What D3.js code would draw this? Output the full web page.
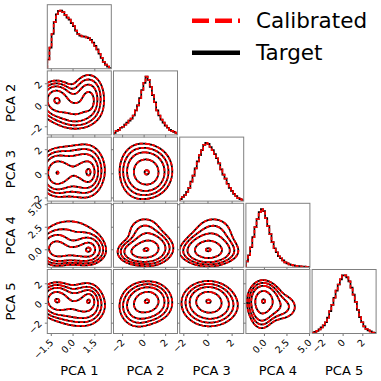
<!DOCTYPE html>
<html>
<head>
<meta charset="utf-8">
<script src="https://cdn.jsdelivr.net/npm/d3@7"></script>
<style>
  body { margin: 0; background: #fff; }
  text { font-family: "DejaVu Sans", sans-serif; }
</style>
</head>
<body>
<svg id="chart" width="381" height="381"></svg>
<script>
// axis names and limits of each principal component
const labels = ["PCA 1", "PCA 2", "PCA 3", "PCA 4", "PCA 5"];
const axisMin = [-1.74, -2.8, -2.3, -2.0, -3.1];
const axisMax = [2.67, 3.15, 3.0, 5.1, 3.4];
const tickValues = [[-1.5, 0, 1.5], [-2, 0, 2], [-2, 0, 2], [0, 2.5, 5], [-2, 0, 2]];
const tickLabels = [["−1.5", "0.0", "1.5"], ["−2", "0", "2"], ["−2", "0", "2"], ["0.0", "2.5", "5.0"], ["−2", "0", "2"]];

// diagonal histograms, 30 bins over each axis range
const histPCA1 = [27, 62, 102, 137, 160, 170, 171, 166, 158, 150, 144, 134, 125, 112, 102, 97, 95, 94, 92, 90, 85, 77, 67, 57, 44, 32, 20, 12, 6, 2];
const histPCA2 = [2, 4, 5, 7, 8, 10, 12, 14, 16, 19, 24, 29, 36, 44, 51, 57, 54, 47, 39, 32, 24, 19, 15, 12, 9, 7, 5, 4, 3, 2];
const histPCA3 = [2, 4, 6, 9, 13, 19, 25, 32, 39, 45, 50, 55, 57, 56, 53, 50, 46, 42, 37, 31, 26, 22, 17, 13, 10, 7, 5, 3, 2, 1];
const histPCA4 = [6, 12, 20, 30, 40, 48, 55, 58, 56, 49, 41, 33, 25, 19, 15, 11, 9, 7, 5, 4, 3, 2.5, 2, 1.5, 1.2, 1, 0.8, 0.6, 0.5, 0.4];
const histPCA5 = [1, 1.5, 2.5, 4, 6, 8, 11, 15.5, 22, 28, 35, 42, 48, 53, 57, 57, 55, 51, 45, 38, 31, 23, 16, 11, 7, 4.5, 3, 2, 1, 0.6];
const hists = [histPCA1, histPCA2, histPCA3, histPCA4, histPCA5];

// joint density behind the contour panels: gaussian blobs (weight, then mean / sd per PCA)
const blobWeights = [0.32, 0.045, 0.19, 0.30, 0.145];
const meanA = [-1.15, 0.5, 0.0, 0.1, 0.35];
const sdA = [0.55, 0.8, 0.85, 0.85, 0.8];
const meanP = [1.15, 0.3, 0.05, 0.0, 0.3];
const sdP = [0.25, 0.55, 0.5, 0.45, 0.5];
const meanB = [1.1, 1.0, 0.2, 0.1, 0.0];
const sdB = [0.55, 1.0, 1.05, 0.85, 1.05];
const meanM = [0.2, -0.6, 0.1, -0.3, -0.3];
const sdM = [0.85, 0.85, 1.1, 0.65, 1.1];
const meanT = [-0.2, 0.1, 0.5, 1.9, -0.4];
const sdT = [1.2, 1.0, 1.0, 1.1, 0.8];
// probability mass enclosed by each contour
const levels = [0.02, 0.45, 0.74, 0.86, 0.93];

const svg = d3.select("#chart");
const cell = 64, step = 66.2, gridLeft = 47.3, gridTop = 4.7;
const nDim = labels.length;
const blobMeans = [meanA, meanP, meanB, meanM, meanT];
const blobSds = [sdA, sdP, sdB, sdM, sdT];
const blobs = blobWeights.map((w, k) => ({ w, mu: blobMeans[k], sd: blobSds[k] }));

const xScale = i => d3.scaleLinear().domain([axisMin[i], axisMax[i]]).range([0, cell]);
const yScale = i => d3.scaleLinear().domain([axisMin[i], axisMax[i]]).range([cell, 0]);

function gauss(x, m, s) {
    const z = (x - m) / s;
    return Math.exp(-0.5 * z * z) / (s * Math.sqrt(2 * Math.PI));
}
function density(i, j, x, y) {
    return d3.sum(blobs, b => b.w * gauss(x, b.mu[i], b.sd[i]) * gauss(y, b.mu[j], b.sd[j]));
}

function contourPanel(g, cx, cy) {
    const N = 140, pad = 0.35;
    const xr = axisMax[cx] - axisMin[cx], yr = axisMax[cy] - axisMin[cy];
    const xlo = axisMin[cx] - pad * xr, xhi = axisMax[cx] + pad * xr;
    const ylo = axisMin[cy] - pad * yr, yhi = axisMax[cy] + pad * yr;
    const dx = (xhi - xlo) / N, dy = (yhi - ylo) / N;
    const values = new Float64Array(N * N);
    for (let r = 0; r < N; r++)
        for (let c = 0; c < N; c++)
            values[r * N + c] = density(cx, cy, xlo + (c + 0.5) * dx, ylo + (r + 0.5) * dy);

    const sorted = Array.from(values).sort((a, b) => b - a);
    const total = d3.sum(sorted);
    const thresholds = levels.map(p => {
        let acc = 0;
        for (const v of sorted) { acc += v; if (acc >= p * total) return v; }
        return 0;
    });
    const contours = d3.contours().size([N, N]).thresholds(thresholds)(values);

    const xs = xScale(cx), ys = yScale(cy);
    const path = d3.geoPath(d3.geoTransform({
        point(x, y) { this.stream.point(xs(xlo + x * dx), ys(ylo + y * dy)); }
    }));

    g.append("g").selectAll("path").data(contours).join("path")
        .attr("d", path).attr("fill", "none")
        .attr("stroke", "#000").attr("stroke-width", 1.8);
    g.append("g").selectAll("path").data(contours).join("path")
        .attr("d", path).attr("fill", "none")
        .attr("stroke", "#ff0000").attr("stroke-width", 1.8)
        .attr("stroke-dasharray", "3.5,1.8");
}

function histPanel(g, i) {
    const counts = hists[i];
    const xs = xScale(i);
    const ys = d3.scaleLinear().domain([0, d3.max(counts) * 1.1]).range([cell, 0]);
    const w = (axisMax[i] - axisMin[i]) / counts.length;
    const pts = [[axisMin[i], 0]];
    counts.forEach((c, k) => pts.push([axisMin[i] + k * w, c]));
    pts.push([axisMax[i], counts[counts.length - 1]]);
    pts.push([axisMax[i], 0]);
    const line = d3.line().x(d => xs(d[0])).y(d => ys(d[1])).curve(d3.curveStepAfter);
    g.append("path").attr("d", line(pts)).attr("fill", "none")
        .attr("stroke", "#000").attr("stroke-width", 1.7);
    g.append("path").attr("d", line(pts)).attr("fill", "none")
        .attr("stroke", "#ff0000").attr("stroke-width", 1.7)
        .attr("stroke-dasharray", "3.5,1.8");
}

const defs = svg.append("defs");
defs.append("clipPath").attr("id", "cellClip")
    .append("rect").attr("width", cell).attr("height", cell);

for (let r = 0; r < nDim; r++) {
    for (let c = 0; c <= r; c++) {
        const g = svg.append("g")
            .attr("transform", `translate(${gridLeft + c * step},${gridTop + r * step})`);
        const plot = g.append("g").attr("clip-path", "url(#cellClip)");
        if (r === c) histPanel(plot, c);
        else contourPanel(plot, c, r);

        // bottom ticks
        const bx = g.append("g").attr("transform", `translate(0,${cell})`)
            .call(d3.axisBottom(xScale(c)).tickValues(tickValues[c]).tickSize(2.5)
                .tickFormat((d, k) => r === nDim - 1 ? tickLabels[c][k] : ""));
        bx.select(".domain").remove();
        bx.selectAll("line").attr("stroke", "#777");
        bx.selectAll("text")
            .attr("x", null).attr("y", null).attr("dy", "0.71em")
            .attr("transform", "translate(-2,5) rotate(-45)")
            .style("text-anchor", "end").attr("fill", "#000")
            .attr("font-size", 9.5).attr("font-family", "DejaVu Sans, sans-serif");

        // left ticks (off-diagonal only)
        if (c < r) {
            const ly = g.append("g")
                .call(d3.axisLeft(yScale(r)).tickValues(tickValues[r]).tickSize(2.5)
                    .tickFormat((d, k) => c === 0 ? tickLabels[r][k] : ""));
            ly.select(".domain").remove();
            ly.selectAll("line").attr("stroke", "#777");
            ly.selectAll("text")
                .attr("x", null).attr("y", null).attr("dy", "0.35em")
                .attr("transform", "translate(-7,-1) rotate(-45)")
                .style("text-anchor", "end").attr("fill", "#000")
                .attr("font-size", 9.5).attr("font-family", "DejaVu Sans, sans-serif");
        }

        g.append("rect").attr("width", cell).attr("height", cell)
            .attr("fill", "none").attr("stroke", "#808080").attr("stroke-width", 1);
    }
}

// axis titles
labels.forEach((lab, i) => {
    svg.append("text")
        .attr("x", gridLeft + i * step + cell / 2).attr("y", 375)
        .attr("text-anchor", "middle").attr("font-size", 13).text(lab);
    if (i > 0) {
        svg.append("text")
            .attr("transform", `translate(14.5,${gridTop + i * step + cell / 2}) rotate(-90)`)
            .attr("text-anchor", "middle").attr("font-size", 13).text(lab);
    }
});

// legend
const legendNames = ["Calibrated", "Target"];
const legend = svg.append("g");
legendNames.forEach((name, k) => {
    const y = 20.7 + k * 32;
    const ln = legend.append("line").attr("x1", 192).attr("x2", 240)
        .attr("y1", y).attr("y2", y).attr("stroke-width", 4.5);
    if (k === 0) ln.attr("stroke", "#ff0000").attr("stroke-dasharray", "17,6");
    else ln.attr("stroke", "#000");
    legend.append("text").attr("x", 256).attr("y", y + 7.5)
        .attr("font-size", 21.5).text(name);
});
</script>
</body>
</html>
